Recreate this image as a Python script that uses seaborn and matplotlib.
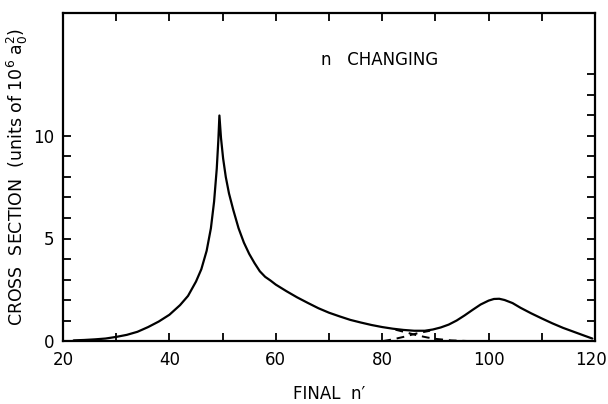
import numpy as np
import pandas as pd
import matplotlib
matplotlib.use("Agg")
import matplotlib.pyplot as plt
import matplotlib.transforms as mtransforms
import seaborn as sns

# Solid curve (total cross section)
n_total = [22, 24, 26, 28, 30, 32, 34, 36, 38, 40, 42, 43.5, 45, 46, 47, 47.8,
           48.4, 48.9, 49.2, 49.4, 49.7, 50.1, 50.6, 51.2, 52, 53, 54, 55, 56,
           57, 58, 59, 60, 62, 64, 66, 68, 70, 72, 74, 76, 78, 80, 82, 84, 86,
           88, 89.5, 91, 92.5, 94, 95.5, 97, 98.5, 100, 101, 102, 103, 104.5,
           106, 108, 110, 112, 114, 116, 118, 119.5]
sigma_total = [0.03, 0.05, 0.08, 0.12, 0.2, 0.3, 0.45, 0.68, 0.95, 1.28, 1.75,
               2.2, 2.9, 3.5, 4.4, 5.5, 6.8, 8.4, 9.8, 11.0, 9.9, 8.9, 8.0, 7.2,
               6.4, 5.5, 4.8, 4.25, 3.8, 3.4, 3.13, 2.95, 2.75, 2.43, 2.13, 1.86,
               1.6, 1.38, 1.2, 1.03, 0.9, 0.78, 0.68, 0.6, 0.54, 0.5, 0.5, 0.56,
               0.66, 0.8, 1.0, 1.25, 1.52, 1.78, 1.97, 2.05, 2.06, 2.0, 1.85,
               1.62, 1.35, 1.1, 0.86, 0.64, 0.45, 0.26, 0.12]

# Dashed components
n_dash_a = [82.5, 84.5, 86.5, 88.5, 90.2, 93, 96]
sigma_dash_a = [0.55, 0.42, 0.28, 0.17, 0.1, 0.03, 0.0]
n_dash_b = [80.2, 82, 84, 86.5, 89]
sigma_dash_b = [0.0, 0.08, 0.2, 0.37, 0.5]

x_ticklabels = [20, 40, 60, 80, 100, 120]
y_ticklabels = [0, 5, 10]

sns.set_style("ticks")
plt.rcParams['font.family'] = ['DejaVu Sans']
plt.rcParams['text.color'] = 'black'
plt.rcParams['axes.labelcolor'] = 'black'
plt.rcParams['xtick.color'] = 'black'
plt.rcParams['ytick.color'] = 'black'

fig = plt.figure(figsize=(6.08, 4.04), dpi=100)
ax = fig.add_axes([63/608, 1-341/404, (595-63)/608, (341-13)/404])

df_t = pd.DataFrame({"n": n_total, "s": sigma_total})
df_a = pd.DataFrame({"n": n_dash_a, "s": sigma_dash_a})
df_b = pd.DataFrame({"n": n_dash_b, "s": sigma_dash_b})

sns.lineplot(data=df_t, x="n", y="s", ax=ax, color="black", lw=1.6, sort=False)
sns.lineplot(data=df_a, x="n", y="s", ax=ax, color="black", lw=1.4, sort=False,
             linestyle=(0, (4, 3)))
sns.lineplot(data=df_b, x="n", y="s", ax=ax, color="black", lw=1.4, sort=False,
             linestyle=(0, (4, 3)))

ax.set_xlim(20, 120)
ax.set_ylim(0, 16)

ax.set_xticks(x_ticklabels)
ax.set_xticks(np.arange(30, 120, 10), minor=True)
ax.set_yticks(y_ticklabels)
ax.set_yticks(np.arange(1, 11, 1), minor=True)

ax.tick_params(axis="both", which="both", direction="in", length=6, width=1.3,
               colors="black", labelsize=12)
ax.tick_params(axis="x", which="both", top=True, pad=7)
ax.tick_params(axis="y", which="both", pad=6)

# nudge the last x tick label slightly left so it stays inside the figure
last = ax.get_xticklabels()[-1]
last.set_transform(last.get_transform() +
                   mtransforms.ScaledTranslation(-4/100, 0, fig.dpi_scale_trans))

# right-side ticks 1..13 through a twin axis
axr = ax.twinx()
axr.set_ylim(0, 16)
axr.set_yticks(np.arange(1, 14, 1))
axr.tick_params(axis="y", direction="in", length=6, width=1.3, labelright=False,
                colors="black")
for sp in axr.spines.values():
    sp.set_visible(False)

for sp in ax.spines.values():
    sp.set_linewidth(1.6)
    sp.set_color("black")

ax.set_xlabel("FINAL  n\u2032", fontsize=12, color="black")
ax.xaxis.set_label_coords(0.5, -0.135)
ax.set_ylabel(r"CROSS  SECTION  (units of 10$^{6}$ a$_0^2$)", fontsize=12.5,
              color="black")
ax.yaxis.set_label_coords(-0.062, 0.5)

ax.text(79.5, 13.7, "n   CHANGING", fontsize=12, ha="center", va="center",
        color="black")

fig.savefig("out.png", dpi=100)
